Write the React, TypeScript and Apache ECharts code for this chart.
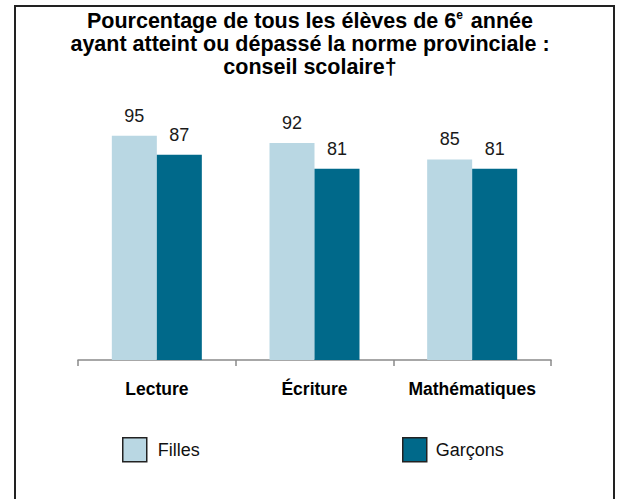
import React, { useEffect, useRef } from "react";
import * as echarts from "echarts";

const categories = ["Lecture", "Écriture", "Mathématiques"];
const filles = [95, 92, 85];
const garcons = [87, 81, 81];
const seriesNames = ["Filles", "Garçons"];

const FONT = "'Liberation Sans', Arial, sans-serif";

export default function App() {
  const ref = useRef<HTMLDivElement>(null);
  useEffect(() => {
    if (!ref.current) return;
    const chart = echarts.init(ref.current, undefined, { renderer: "svg" });
    chart.setOption({
      animation: false,
      backgroundColor: "#ffffff",
      title: {
        text: "Pourcentage de tous les élèves de 6{sup|e} année\nayant atteint ou dépassé la norme provinciale :\nconseil scolaire†",
        left: "center",
        top: 9,
        padding: [0, 0, 0, 8],
        textStyle: {
          fontFamily: FONT,
          fontSize: 21.5,
          fontWeight: "bold",
          color: "#000",
          lineHeight: 23,
          align: "center",
          rich: {
            sup: {
              fontFamily: FONT,
              fontSize: 12,
              fontWeight: "bold",
              color: "#000",
              lineHeight: 14,
              verticalAlign: "top",
              padding: [0, 2, 0, 0],
            },
          },
        },
      },
      graphic: [
        {
          type: "rect",
          shape: { x: 15, y: 6, width: 599, height: 600 },
          style: { fill: "none", stroke: "#222", lineWidth: 2 },
          silent: true,
        },
      ],
      legend: [
        {
          data: [seriesNames[0]],
          left: 122,
          top: 437,
          padding: 0,
          icon: "rect",
          itemWidth: 24,
          itemHeight: 24,
          itemStyle: { borderColor: "#222", borderWidth: 1.5 },
          textStyle: { fontFamily: FONT, fontSize: 18, color: "#111", padding: [0, 0, 0, 6] },
        },
        {
          data: [seriesNames[1]],
          left: 402,
          top: 437,
          padding: 0,
          icon: "rect",
          itemWidth: 24,
          itemHeight: 24,
          itemStyle: { borderColor: "#222", borderWidth: 1.5 },
          textStyle: { fontFamily: FONT, fontSize: 18, color: "#111", padding: [0, 0, 0, 4] },
        },
      ],
      grid: { left: 78, right: 69, top: 124, bottom: 139 },
      xAxis: {
        type: "category",
        data: categories,
        axisLine: { lineStyle: { color: "#8a8a8a", width: 1.5 } },
        axisTick: { show: true, length: 6, lineStyle: { color: "#8a8a8a", width: 1.5 } },
        axisLabel: {
          fontFamily: FONT,
          fontSize: 17.5,
          fontWeight: "bold",
          color: "#000",
          margin: 20,
          interval: 0,
        },
      },
      yAxis: {
        type: "value",
        min: 0,
        max: 100,
        show: false,
        splitLine: { show: false },
      },
      series: [
        {
          name: seriesNames[0],
          type: "bar",
          data: filles,
          barWidth: 45,
          barGap: "0%",
          itemStyle: { color: "#B9D7E3" },
          label: {
            show: true,
            position: "top",
            distance: 11,
            fontFamily: FONT,
            fontSize: 18,
            color: "#1a1a1a",
          },
        },
        {
          name: seriesNames[1],
          type: "bar",
          data: garcons,
          barWidth: 45,
          barGap: "0%",
          itemStyle: { color: "#00698A" },
          label: {
            show: true,
            position: "top",
            distance: 11,
            fontFamily: FONT,
            fontSize: 18,
            color: "#1a1a1a",
          },
        },
      ],
    });
    return () => chart.dispose();
  }, []);
  return (
    <div
      ref={ref}
      style={{ position: "fixed", left: 0, top: 0, width: 620, height: 499 }}
    />
  );
}
